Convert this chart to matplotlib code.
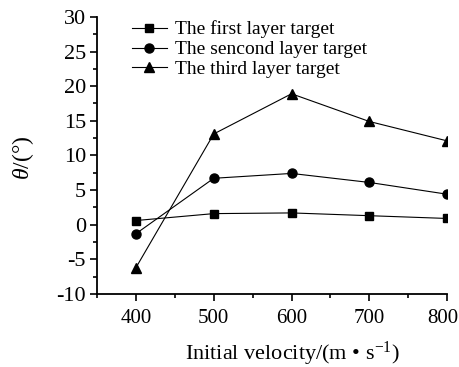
import numpy as np
import matplotlib
matplotlib.use("Agg")
from matplotlib import pyplot as plt
from matplotlib.ticker import MultipleLocator
from matplotlib.transforms import ScaledTranslation

plt.rcParams['font.family'] = ['Liberation Serif', 'DejaVu Serif']
plt.rcParams['mathtext.fontset'] = 'custom'
plt.rcParams['mathtext.it'] = 'Liberation Serif:italic'
plt.rcParams['mathtext.rm'] = 'Liberation Serif'
plt.rcParams['axes.unicode_minus'] = False

# data
velocity = [400, 500, 600, 700, 800]
first_layer = [0.6, 1.6, 1.7, 1.3, 0.9]
second_layer = [-1.3, 6.7, 7.4, 6.1, 4.4]
third_layer = [-6.2, 13.1, 18.9, 14.9, 12.1]
labels = ["The first layer target", "The sencond layer target", "The third layer target"]

fig = plt.figure(figsize=(4.6, 3.67), dpi=100)
ax = fig.add_axes([0.211, 0.199, 0.761, 0.755])

ax.plot(velocity, first_layer, 'k-s', lw=0.8, ms=5.5, label=labels[0])
ax.plot(velocity, second_layer, 'k-o', lw=0.8, ms=6.5, label=labels[1])
ax.plot(velocity, third_layer, 'k-^', lw=0.8, ms=7, label=labels[2])

ax.set_xlim(350, 800)
ax.set_ylim(-10, 30)
ax.xaxis.set_major_locator(MultipleLocator(100))
ax.xaxis.set_minor_locator(MultipleLocator(50))
ax.yaxis.set_major_locator(MultipleLocator(5))
ax.yaxis.set_minor_locator(MultipleLocator(2.5))
ax.set_xticks([400, 500, 600, 700, 800])
ax.tick_params(which='major', direction='out', length=5, width=1.2)
ax.tick_params(which='minor', direction='out', length=3, width=1.2)
ax.tick_params(axis='x', pad=6, labelsize=15)
ax.tick_params(axis='y', pad=3, labelsize=16)

# last x label sits a bit left of its tick, as in the original
fig.canvas.draw()
lab = ax.get_xticklabels()[-1]
lab.set_transform(lab.get_transform() + ScaledTranslation(-4 / 100, 0, fig.dpi_scale_trans))

for s in ['top', 'right']:
    ax.spines[s].set_visible(False)
for s in ['left', 'bottom']:
    ax.spines[s].set_linewidth(1.3)

ax.set_xlabel(r"Initial velocity/(m • s$^{\mathregular{-1}}$)", fontsize=16, labelpad=6)
ax.xaxis.set_label_coords(0.557, -0.165)
ax.set_ylabel(r"$\theta$/(°)", fontsize=17)
ax.yaxis.set_label_coords(-0.175, 0.49)

ax.legend(loc='upper left', bbox_to_anchor=(0.077, 1.015), frameon=False, fontsize=14,
          handlelength=1.8, handletextpad=0.4, labelspacing=0.12, borderaxespad=0)

plt.savefig("out.png", dpi=100)
